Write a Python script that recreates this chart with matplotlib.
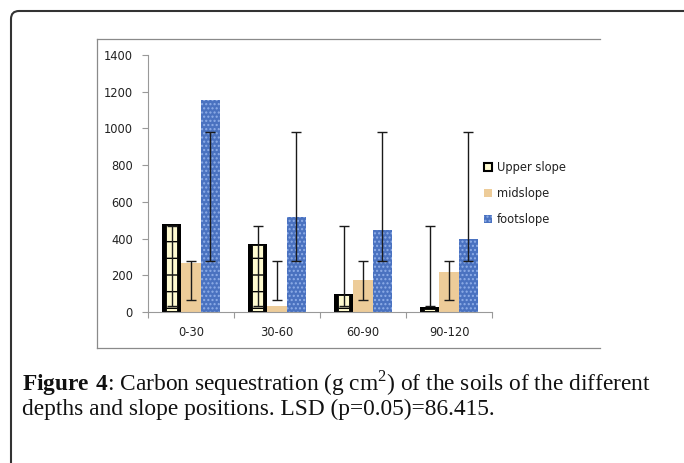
import matplotlib
matplotlib.use("Agg")
import matplotlib.pyplot as plt
import numpy as np
from matplotlib.patches import FancyBboxPatch, Patch
from matplotlib.lines import Line2D
from matplotlib.transforms import IdentityTransform

# ---- data ----
categories = ["0-30", "30-60", "60-90", "90-120"]
series_names = ["Upper slope", "midslope", "footslope"]
upper_slope = [480, 370, 100, 25]
midslope = [265, 30, 175, 220]
footslope = [1155, 520, 445, 400]
# error bar ranges (low, high) as drawn
upper_err_low = [30, 30, 30, 30]
upper_err_high = [470, 470, 470, 470]
mid_err_low = [67, 67, 67, 67]
mid_err_high = [278, 278, 278, 278]
foot_err_low = [278, 278, 278, 278]
foot_err_high = [982, 982, 982, 982]
yticks = [0, 200, 400, 600, 800, 1000, 1200, 1400]
caption_line1 = r"$\bf{Figure\ 4}$: Carbon sequestration (g cm$^2$) of the soils of the different"
caption_line2 = "depths and slope positions. LSD (p=0.05)=86.415."

plt.rcParams["mathtext.fontset"] = "custom"
plt.rcParams["mathtext.rm"] = "Liberation Serif"
plt.rcParams["mathtext.bf"] = "Liberation Serif:bold"
plt.rcParams["hatch.linewidth"] = 1.0

W, H = 684, 463
fig = plt.figure(figsize=(W / 100, H / 100), dpi=100)

def fx(px):
    return px / W

def fy(py):
    return 1 - py / H

ax = fig.add_axes([fx(148), fy(312), fx(492) - fx(148), fy(55) - fy(312)])

x = np.arange(len(categories))
bw = 0.225
offsets = [-bw, 0, bw]

# upper slope: black bar with cream inner
ax.bar(x + offsets[0], upper_slope, bw, color="black", zorder=2)
inner_b = ax.bar(x + offsets[0], upper_slope, bw * 0.6, color="#FFFBD0",
                 edgecolor="black", linewidth=0.6, hatch="-", zorder=3)
for b, v in zip(inner_b, upper_slope):
    b.set_height(max(v - 12, 0))
    b.set_y(min(6, v / 2))
# midslope
ax.bar(x + offsets[1], midslope, bw, color="#EDCC99", zorder=2)
# footslope
ax.bar(x + offsets[2], footslope, bw, color="#4A72C0", edgecolor="#8FAEE8",
       linewidth=0, hatch="....", zorder=2)

def draw_err(xpos, lo, hi):
    lo = np.array(lo); hi = np.array(hi)
    mid = (lo + hi) / 2
    ax.errorbar(xpos, mid, yerr=[mid - lo, hi - mid], fmt="none", ecolor="#1a1a1a",
                elinewidth=1.0, capsize=3.5, capthick=1.0, zorder=5)

draw_err(x + offsets[0], upper_err_low, upper_err_high)
draw_err(x + offsets[1], mid_err_low, mid_err_high)
draw_err(x + offsets[2], foot_err_low, foot_err_high)

ax.set_xlim(-0.5, len(categories) - 0.5)
ax.set_ylim(0, 1400)
ax.set_yticks(yticks)
ax.set_yticklabels([str(t) for t in yticks])
ax.set_xticks(x)
ax.set_xticklabels(categories)
ax.set_xticks(np.arange(-0.5, len(categories)), minor=True)
ax.tick_params(axis="x", which="major", length=0, pad=10, labelsize=8.3)
ax.tick_params(axis="x", which="minor", length=4, color="#999999", width=0.8)
ax.tick_params(axis="y", length=4, color="#999999", width=0.8, pad=7, labelsize=8.3)
for t in ax.get_xticklabels() + ax.get_yticklabels():
    t.set_color("#222222")
for s in ["top", "right"]:
    ax.spines[s].set_visible(False)
for s in ["left", "bottom"]:
    ax.spines[s].set_color("#999999")
    ax.spines[s].set_linewidth(0.8)
ax.patch.set_alpha(0)

# legend
h_upper = Patch(facecolor="#FFFBD0", edgecolor="black", linewidth=1.5, hatch="-")
h_mid = Patch(facecolor="#EDCC99", edgecolor="none")
h_foot = Patch(facecolor="#4A72C0", edgecolor="#8FAEE8", linewidth=0, hatch="....")
leg = fig.legend([h_upper, h_mid, h_foot], series_names, loc="upper left",
                 bbox_to_anchor=(fx(484), fy(161)), frameon=False, fontsize=8.3,
                 handlelength=0.7, handleheight=0.7, handletextpad=0.4,
                 labelspacing=1.12, borderpad=0, borderaxespad=0)
for t in leg.get_texts():
    t.set_color("#222222")

# inner chart frame (top, left, bottom)
for (x0, y0, x1, y1) in [(97, 39, 600, 39), (97, 39, 97, 348), (97, 348, 600, 348)]:
    fig.add_artist(Line2D([fx(x0), fx(x1)], [fy(y0), fy(y1)], color="#8a8a8a",
                          linewidth=0.9, transform=fig.transFigure))

# outer rounded frame
frame = FancyBboxPatch((11, -30), 720, H - 11 + 30,
                       boxstyle="round,pad=0,rounding_size=8",
                       transform=IdentityTransform(), facecolor="none",
                       edgecolor="#333333", linewidth=1.5)
fig.add_artist(frame)

# caption
fig.text(fx(22), fy(390), caption_line1,
         fontsize=16.8, family="Liberation Serif", color="#111111", va="baseline")
fig.text(fx(22), fy(415), caption_line2,
         fontsize=16.8, family="Liberation Serif", color="#111111", va="baseline")

fig.savefig("out.png", dpi=100)
